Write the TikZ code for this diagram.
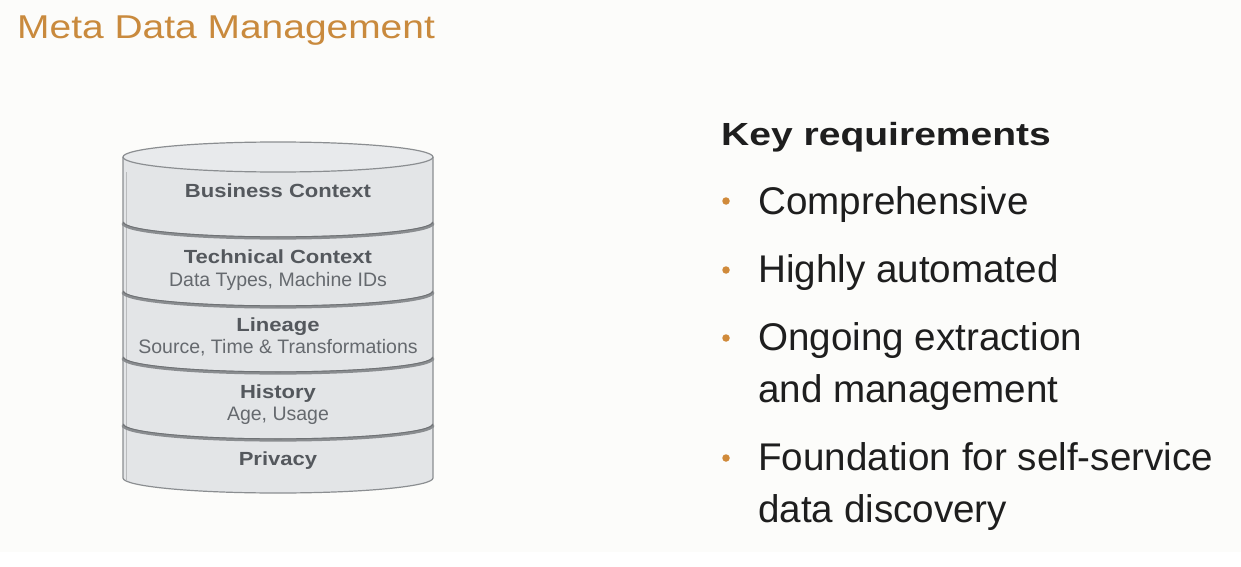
\documentclass[tikz,border=0pt]{standalone}
\usepackage{fontspec}
\setmainfont{Liberation Sans}
\usepackage{graphicx}
\definecolor{bg}{HTML}{FCFCFA}
\definecolor{titleor}{HTML}{C98A3D}
\definecolor{cylfill}{HTML}{E3E5E7}
\definecolor{cyltop}{HTML}{E8EAEC}
\definecolor{cylline}{HTML}{8B8E91}
\definecolor{sepdark}{HTML}{8A8D90}
\definecolor{sepedge}{HTML}{6F7275}
\definecolor{boldtxt}{HTML}{54585D}
\definecolor{subtxt}{HTML}{65696E}
\definecolor{bodytxt}{HTML}{1E1E1E}
\definecolor{bulletor}{HTML}{D08A3A}
\newcommand\halfdown[1]{(123,#1) .. controls (123,#1+8.3) and (192.4,#1+15) .. (278,#1+15) .. controls (363.6,#1+15) and (433,#1+8.3) .. (433,#1)}
\begin{document}
\begin{tikzpicture}[x=1pt,y=-1pt,
  lab/.style={anchor=base, inner sep=0pt, text=boldtxt, font=\fontsize{19}{22}\selectfont\bfseries},
  sub/.style={anchor=base, inner sep=0pt, text=subtxt, font=\fontsize{19.5}{22}\selectfont},
  item/.style={anchor=base west, inner sep=0pt, text=bodytxt, font=\fontsize{38.6}{44}\selectfont},
  bul/.style={circle, fill=bulletor, minimum size=7.5pt, inner sep=0pt},
  sepline/.style={sepdark, line width=3.2pt},
  septhin/.style={sepedge, line width=0.9pt}]
\useasboundingbox (0,0) rectangle (1241,567);
\fill[bg] (0,0) rectangle (1241,552);
\fill[white] (0,552) rectangle (1241,567);
% title
\node[anchor=base west, inner sep=0pt, text=titleor, font=\fontsize{33}{38}\selectfont] (title) at (17,39) {\scalebox{1.18}[1]{Meta Data Management}};
% cylinder body
\fill[cylfill] (123,157) -- \halfdown{478} -- (433,157) -- cycle;
\draw[cylline, line width=1.2pt] (123,157) -- \halfdown{478} -- (433,157);
\draw[cylline!60, line width=1pt] (126,172) -- (126,480);
\filldraw[fill=cyltop, draw=cylline, line width=1.2pt] (278,157) ellipse [x radius=155, y radius=15];
% separators
\foreach \yy in {223,292,358,425}{
  \draw[sepline] \halfdown{\yy};
  \draw[septhin] \halfdown{\yy-1.2};
}
% layer labels
\node[lab] (bc) at (278,197) {\scalebox{1.16}[1]{Business Context}};
\node[lab] (tc) at (278,263) {\scalebox{1.16}[1]{Technical Context}};
\node[sub] (tcs) at (278,286) {Data Types, Machine IDs};
\node[lab] (ln) at (278,331) {\scalebox{1.16}[1]{Lineage}};
\node[sub] (lns) at (278,353) {Source, Time \& Transformations};
\node[lab] (hi) at (278,398) {\scalebox{1.16}[1]{History}};
\node[sub] (his) at (278,420) {Age, Usage};
\node[lab] (pr) at (278,465) {\scalebox{1.16}[1]{Privacy}};
% key requirements
\node[anchor=base west, inner sep=0pt, text=bodytxt, font=\fontsize{32}{36}\selectfont\bfseries] (kr) at (721,146) {\scalebox{1.22}[1]{Key requirements}};
\node[bul] (b1) at (726,201) {};
\node[item] (i1) at (758,214) {Comprehensive};
\node[bul] (b2) at (726,270) {};
\node[item] (i2) at (758,282) {Highly automated};
\node[bul] (b3) at (726,338) {};
\node[item] (i3) at (758,350) {Ongoing extraction};
\node[item] (i3b) at (758,402) {and management};
\node[bul] (b4) at (726,458) {};
\node[item] (i4) at (758,470) {Foundation for self-service};
\node[item] (i4b) at (758,522) {data discovery};
\end{tikzpicture}
\end{document}
